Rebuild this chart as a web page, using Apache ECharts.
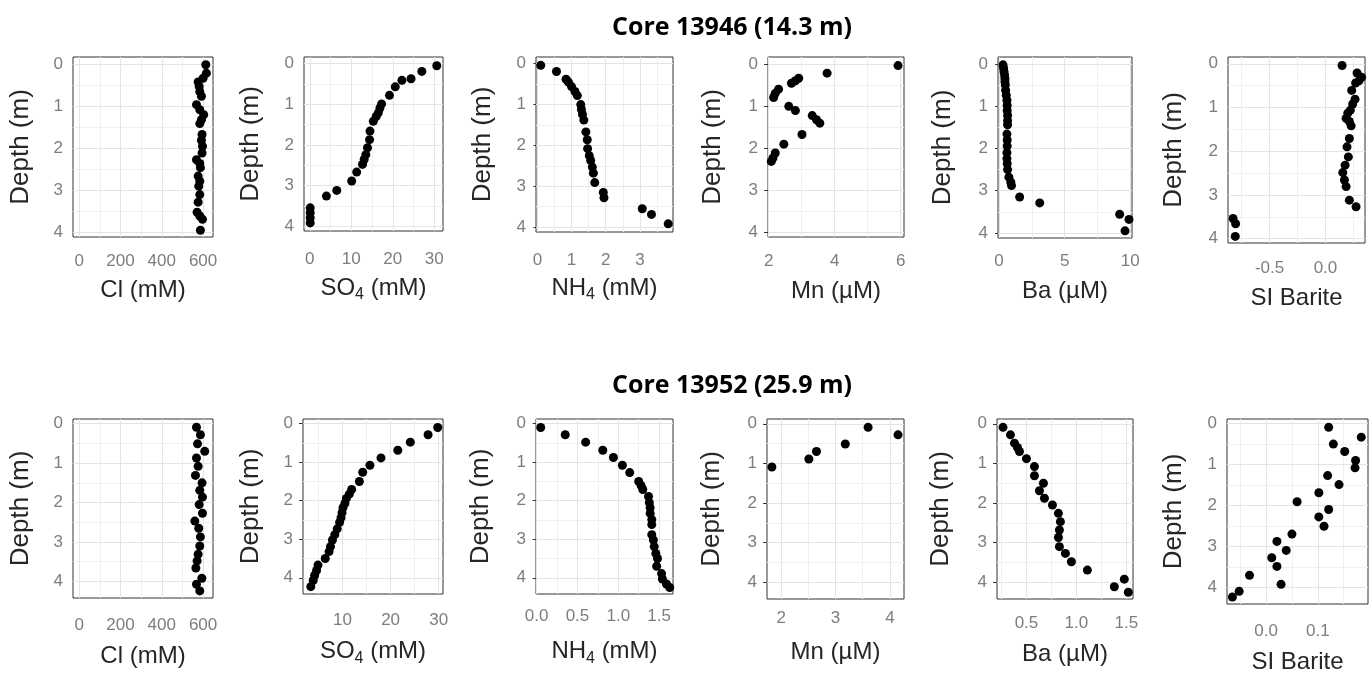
<!DOCTYPE html>
<html><head><meta charset="utf-8">
<script src="https://cdn.jsdelivr.net/npm/echarts@6/dist/echarts.min.js"></script>
<style>html,body{margin:0;padding:0;background:#fff}#c{width:1371px;height:675px}</style>
</head><body><div id="c"></div>
<script>
// ---------- Core 13946 ----------
const cl1Depth = [0.02,0.22,0.34,0.43,0.54,0.66,0.77,0.97,1.09,1.21,1.33,1.42,1.68,1.82,1.96,2.12,2.28,2.37,2.47,2.67,2.79,2.91,3.11,3.29,3.53,3.62,3.70,3.96];
const cl1Val   = [613,616,600,576,581,584,592,568,584,603,592,584,595,592,597,595,568,584,587,576,584,579,584,576,571,584,597,587];
const so41Depth = [0.05,0.19,0.37,0.41,0.57,0.78,0.99,1.09,1.21,1.30,1.42,1.66,1.87,2.07,2.24,2.36,2.48,2.67,2.89,3.12,3.26,3.55,3.67,3.80,3.92];
const so41Val   = [30.6,27.0,24.4,22.2,20.6,19.2,17.3,16.9,16.5,16.0,15.3,14.5,14.4,13.9,13.5,13.1,12.7,11.3,10.1,6.5,4.0,0.1,0.1,0.1,0.1];
const nh41Depth = [0.04,0.19,0.38,0.45,0.56,0.68,0.78,1.00,1.12,1.24,1.38,1.67,1.86,2.08,2.25,2.37,2.53,2.68,2.91,3.15,3.28,3.55,3.69,3.92];
const nh41Val   = [0.10,0.56,0.84,0.91,1.00,1.10,1.17,1.27,1.29,1.32,1.36,1.42,1.46,1.47,1.52,1.56,1.61,1.64,1.68,1.93,1.95,3.07,3.34,3.83];
const mn1Depth = [0.04,0.22,0.34,0.40,0.46,0.60,0.70,0.80,1.01,1.11,1.23,1.33,1.41,1.68,1.91,2.12,2.24,2.32];
const mn1Val   = [5.92,3.77,2.91,2.81,2.69,2.30,2.20,2.15,2.61,2.81,3.32,3.45,3.55,3.01,2.46,2.20,2.13,2.08];
const ba1Depth = [0.02,0.10,0.18,0.26,0.34,0.42,0.50,0.62,0.74,0.86,0.98,1.10,1.22,1.34,1.44,1.66,1.80,1.94,2.10,2.24,2.36,2.50,2.68,2.80,2.88,3.15,3.29,3.56,3.68,3.95];
const ba1Val   = [0.30,0.35,0.38,0.42,0.45,0.45,0.48,0.50,0.55,0.60,0.62,0.62,0.65,0.65,0.65,0.60,0.62,0.62,0.60,0.60,0.62,0.65,0.75,0.90,0.95,1.57,3.10,9.19,9.90,9.60];
const si1Depth = [0.04,0.21,0.31,0.39,0.44,0.61,0.81,0.92,1.06,1.13,1.25,1.32,1.42,1.71,1.90,2.13,2.32,2.49,2.66,2.81,3.12,3.27,3.54,3.66,3.95];
const si1Val   = [0.149,0.283,0.324,0.300,0.270,0.235,0.265,0.244,0.223,0.200,0.185,0.214,0.230,0.214,0.193,0.205,0.176,0.155,0.170,0.185,0.214,0.274,-0.827,-0.804,-0.807];

// ---------- Core 13952 ----------
const cl2Depth = [0.09,0.28,0.51,0.70,0.87,1.08,1.31,1.50,1.69,1.86,2.05,2.27,2.47,2.65,2.87,3.10,3.31,3.48,3.66,3.92,4.07,4.24];
const cl2Val   = [568,587,573,608,568,576,563,595,584,597,581,597,560,579,587,584,576,571,565,594,568,584];
const so42Depth = [0.10,0.29,0.48,0.69,0.89,1.08,1.26,1.50,1.71,1.83,1.94,2.07,2.18,2.31,2.44,2.56,2.73,2.88,3.02,3.19,3.32,3.50,3.67,3.81,3.94,4.07,4.23];
const so42Val   = [29.8,27.8,24.1,21.5,18.0,15.7,14.2,13.5,11.9,11.4,10.8,10.5,10.1,9.9,9.7,9.4,8.9,8.4,7.9,7.5,7.2,6.4,4.9,4.6,4.2,3.9,3.4];
const nh42Depth = [0.10,0.29,0.48,0.69,0.88,1.08,1.27,1.50,1.61,1.71,1.89,2.05,2.18,2.33,2.49,2.62,2.88,3.02,3.19,3.37,3.50,3.70,3.89,4.03,4.16,4.25];
const nh42Val   = [0.05,0.35,0.60,0.81,0.94,1.05,1.14,1.25,1.28,1.30,1.37,1.38,1.39,1.39,1.41,1.41,1.41,1.43,1.44,1.46,1.48,1.47,1.53,1.54,1.59,1.63];
const mn2Depth = [0.09,0.28,0.51,0.70,0.89,1.09];
const mn2Val   = [3.60,4.15,3.18,2.65,2.51,1.83];
const ba2Depth = [0.09,0.28,0.49,0.60,0.70,0.88,1.08,1.31,1.50,1.69,1.88,2.05,2.26,2.47,2.68,2.87,3.10,3.27,3.48,3.69,3.92,4.11,4.25];
const ba2Val   = [0.265,0.34,0.38,0.41,0.43,0.50,0.58,0.58,0.67,0.63,0.68,0.76,0.82,0.84,0.83,0.82,0.83,0.89,0.95,1.11,1.48,1.38,1.52];
const si2Depth = [0.09,0.33,0.50,0.68,0.90,1.08,1.27,1.49,1.69,1.91,2.10,2.28,2.51,2.70,2.88,3.10,3.28,3.49,3.71,3.93,4.10,4.24];
const si2Val   = [0.121,0.184,0.130,0.152,0.173,0.172,0.119,0.141,0.102,0.060,0.121,0.102,0.112,0.050,0.021,0.039,0.011,0.021,-0.032,0.029,-0.052,-0.065];

// ---------- tick labels ----------
const depthTicks = [0,1,2,3,4];
const depthMinor = [0.5,1.5,2.5,3.5];
const clTicks = [0,200,400,600],   clMinor = [100,300,500];
const so41Ticks = [0,10,20,30],    so41Minor = [5,15,25];
const nh41Ticks = [0,1,2,3],       nh41Minor = [0.5,1.5,2.5,3.5];
const mn1Ticks = [2,4,6],          mn1Minor = [3,5];
const ba1Ticks = [0,5,10],         ba1Minor = [2.5,7.5];
const si1Ticks = [-0.5,0],         si1Minor = [-0.75,-0.25,0.25];
const so42Ticks = [10,20,30],      so42Minor = [5,15,25];
const nh42Ticks = [0,0.5,1,1.5],   nh42Minor = [0.25,0.75,1.25];
const mn2Ticks = [2,3,4],          mn2Minor = [2.5,3.5];
const ba2Ticks = [0.5,1,1.5],      ba2Minor = [0.25,0.75,1.25];
const si2Ticks = [0,0.1],          si2Minor = [-0.05,0.05,0.15];

const titles = ['Core 13946 (14.3 m)', 'Core 13952 (25.9 m)'];

// ---------- layout / styles ----------
const FONT = '"Liberation Sans", Arial, sans-serif';
const TICK_COLOR = '#7d7d7d';
const NAME_COLOR = '#262626';
const NAME_SIZE = 24;
const DEPTH_SIZE = 26;
const TICK_SIZE = 17;
const SO4 = '{a|SO}{s|4}{a| (mM)}';
const NH4 = '{a|NH}{s|4}{a| (mM)}';

const panels = [
  {g:[73,57,140,180],  d:cl1Depth, v:cl1Val,  xr:[-30,648],     xt:clTicks,  xm:clMinor,  dec:0, name:'Cl (mM)', ng:41, lm:16, yr:[-0.165,4.12], yng:39},
  {g:[304,57,139,174], d:so41Depth,v:so41Val, xr:[-1.4,32.1],   xt:so41Ticks,xm:so41Minor,dec:0, name:SO4, rich:true, ng:42, lm:20, yr:[-0.165,4.12], yng:40},
  {g:[536,57,137,175], d:nh41Depth,v:nh41Val, xr:[-0.04,3.97],  xt:nh41Ticks,xm:nh41Minor,dec:0, name:NH4, rich:true, ng:41, lm:20, yr:[-0.165,4.12], yng:40},
  {g:[768,57,136,180], d:mn1Depth, v:mn1Val,  xr:[1.98,6.1],    xt:mn1Ticks, xm:mn1Minor, dec:0, name:'Mn (µM)', ng:42, lm:16, yr:[-0.165,4.12], yng:42},
  {g:[998,57,134,181], d:ba1Depth, v:ba1Val,  xr:[-0.08,10.13], xt:ba1Ticks, xm:ba1Minor, dec:0, name:'Ba (µM)', ng:41, lm:15, yr:[-0.165,4.12], yng:42.5},
  {g:[1228,57,137,186],d:si1Depth, v:si1Val,  xr:[-0.872,0.354],xt:si1Ticks, xm:si1Minor, dec:1, name:'SI Barite', ng:43.5, lm:17, yr:[-0.155,4.10], yng:41},
  {g:[73,419,140,179], d:cl2Depth, v:cl2Val,  xr:[-30,648],     xt:clTicks,  xm:clMinor,  dec:0, name:'Cl (mM)', ng:46, lm:19, yr:[-0.12,4.42], yng:39},
  {g:[303,419,140,175],d:so42Depth,v:so42Val, xr:[1.78,30.9],   xt:so42Ticks,xm:so42Minor,dec:0, name:SO4, rich:true, ng:42.7, lm:17.5, yr:[-0.12,4.42], yng:39},
  {g:[536,419,137,175],d:nh42Depth,v:nh42Val, xr:[-0.008,1.67], xt:nh42Ticks,xm:nh42Minor,dec:1, name:NH4, rich:true, ng:42.7, lm:14, yr:[-0.12,4.42], yng:42},
  {g:[767,419,137,180],d:mn2Depth, v:mn2Val,  xr:[1.74,4.26],   xt:mn2Ticks, xm:mn2Minor, dec:0, name:'Mn (µM)', ng:41, lm:11, yr:[-0.12,4.42], yng:42.5},
  {g:[997,419,136,180],d:ba2Depth, v:ba2Val,  xr:[0.205,1.567], xt:ba2Ticks, xm:ba2Minor, dec:1, name:'Ba (µM)', ng:43, lm:16, yr:[-0.12,4.42], yng:43},
  {g:[1227,419,141,185],d:si2Depth,v:si2Val,  xr:[-0.0755,0.197],xt:si2Ticks,xm:si2Minor, dec:1, name:'SI Barite', ng:46, lm:19, yr:[-0.114,4.41], yng:40}
];

const MAJOR = {color:'#e4e4e4', width:1, type:'solid'};
const MINOR = {color:'#f0f0f0', width:1, type:'solid'};

const grid = [], xAxis = [], yAxis = [], series = [];
panels.forEach((p, i) => {
  grid.push({left:p.g[0], top:p.g[1], width:p.g[2], height:p.g[3], show:true,
    borderColor:'#333', borderWidth:1, backgroundColor:'#fff', containLabel:false});
  const nameStyle = {fontFamily:FONT, fontSize:NAME_SIZE, color:NAME_COLOR};
  if (p.rich) {
    nameStyle.rich = {
      a:{fontFamily:FONT, fontSize:NAME_SIZE, color:NAME_COLOR, lineHeight:30},
      s:{fontFamily:FONT, fontSize:16, color:NAME_COLOR, lineHeight:16, padding:[14,0,0,0]}
    };
  }
  xAxis.push({gridIndex:i, type:'value', min:p.xr[0], max:p.xr[1],
    name:p.name, nameLocation:'middle', nameGap:p.ng, nameTextStyle:nameStyle,
    axisLine:{show:false},
    axisTick:{show:true, length:4, lineStyle:{color:'#333', width:1}, customValues:p.xt},
    axisLabel:{show:true, customValues:p.xt, margin:p.lm, fontFamily:FONT, fontSize:TICK_SIZE, color:TICK_COLOR,
      formatter:(val) => Number(val).toFixed(p.dec)},
    splitLine:{show:false}, minorSplitLine:{show:false}});
  yAxis.push({gridIndex:i, type:'value', inverse:true, min:p.yr[0], max:p.yr[1],
    name:'Depth (m)', nameLocation:'middle', nameGap:p.yng,
    nameTextStyle:{fontFamily:FONT, fontSize:DEPTH_SIZE, color:NAME_COLOR},
    axisLine:{show:false},
    axisTick:{show:true, length:4, lineStyle:{color:'#333', width:1}, customValues:depthTicks},
    axisLabel:{show:true, customValues:depthTicks, margin:10, fontFamily:FONT, fontSize:TICK_SIZE, color:TICK_COLOR,
      formatter:(val) => String(Math.round(val))},
    splitLine:{show:false}, minorSplitLine:{show:false}});
  const lines = [];
  p.xm.forEach(v => lines.push({xAxis:v, lineStyle:MINOR}));
  depthMinor.forEach(v => lines.push({yAxis:v, lineStyle:MINOR}));
  p.xt.forEach(v => lines.push({xAxis:v, lineStyle:MAJOR}));
  depthTicks.forEach(v => lines.push({yAxis:v, lineStyle:MAJOR}));
  series.push({type:'scatter', xAxisIndex:i, yAxisIndex:i, z:3,
    data:p.v.map((val, k) => [val, p.d[k]]),
    symbol:'circle', symbolSize:9, itemStyle:{color:'#000', opacity:1},
    emphasis:{disabled:true}, silent:true, animation:false,
    markLine:{silent:true, z:1, symbol:'none', animation:false, label:{show:false},
      emphasis:{disabled:true}, data:lines}});
});

const chart = echarts.init(document.getElementById('c'), null, {renderer:'canvas'});
chart.setOption({
  animation:false,
  backgroundColor:'#fff',
  grid, xAxis, yAxis, series,
  graphic:[
    {type:'text', x:732, y:28, style:{text:titles[0], fill:'#000', font:'bold 25px "Open Sans", sans-serif', textAlign:'center', textVerticalAlign:'middle'}},
    {type:'text', x:732, y:386, style:{text:titles[1], fill:'#000', font:'bold 25px "Open Sans", sans-serif', textAlign:'center', textVerticalAlign:'middle'}}
  ]
});
</script></body></html>
